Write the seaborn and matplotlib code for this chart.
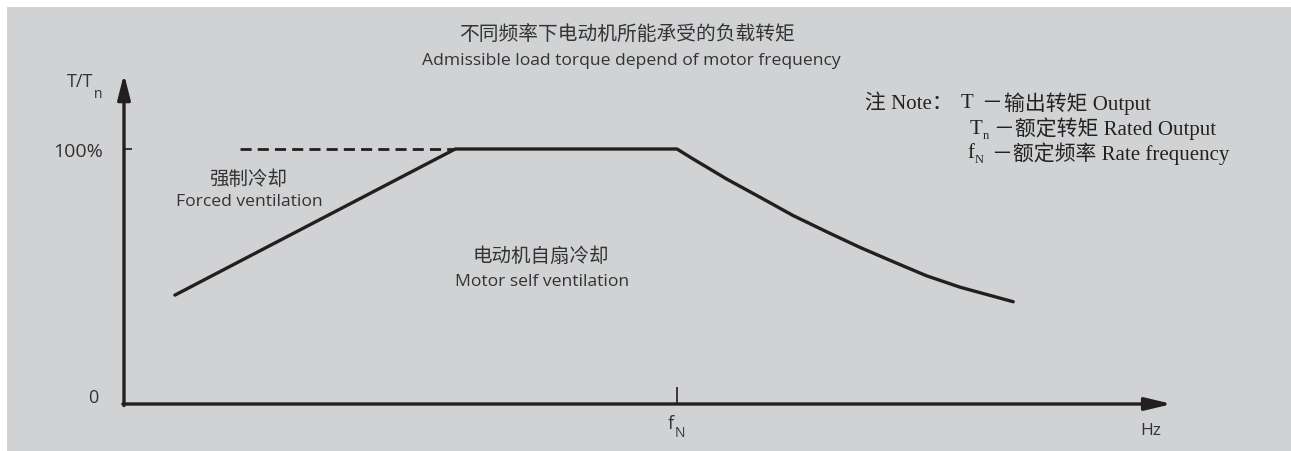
import matplotlib
matplotlib.use("Agg")
import matplotlib.pyplot as plt
import seaborn as sns
import pandas as pd
from matplotlib.patches import Rectangle

# 数据（横轴以 fN 为 1，纵轴为 T/Tn 百分比）
freq = [0.092, 0.599, 1.0, 1.029, 1.090, 1.150, 1.210, 1.271, 1.331, 1.391, 1.451, 1.512, 1.608]
torque = [42.7, 100, 100, 96.1, 88.2, 81.1, 73.9, 67.5, 61.4, 55.8, 50.3, 45.8, 40.1]
forced_freq = [0.209, 0.599]
forced_torque = [100, 100]
ytick_vals = [100]
ytick_labels = ["100%"]
xtick_vals = [1.0]

W, H = 1291, 452
sns.set_style("white")
plt.rcParams['font.family'] = ['Open Sans', 'Noto Sans CJK SC', 'DejaVu Sans']
ink = '#231f20'
txt = '#333333'

fig = plt.figure(figsize=(W / 100, H / 100), dpi=100)
fig.patch.set_facecolor('white')
fig.patches.append(Rectangle((7 / W, 0), 1, 1 - 8 / H, transform=fig.transFigure,
                             facecolor='#d1d2d4', edgecolor='none', zorder=-5))

def px(x, y):
    return x / W, 1 - y / H

# 坐标轴区域：原点 (124,405)，fN 在 x=677，100% 在 y=150
x0, y0, x1, y1 = 124, 405, 1180, 70
unit = 553
ax = fig.add_axes([x0 / W, 1 - y0 / H, (x1 - x0) / W, (y0 - y1) / H])
ax.set_zorder(2)
ax.set_facecolor('none')
ax.set_xlim(0, (x1 - x0) / unit)
ax.set_ylim(0, (y0 - y1) / 255 * 100)
for s in ax.spines.values():
    s.set_visible(False)

df = pd.DataFrame({'f': freq, 'T': torque})
sns.lineplot(data=df, x='f', y='T', ax=ax, color=ink, lw=2.4, sort=False, estimator=None)
dd = pd.DataFrame({'f': forced_freq, 'T': forced_torque})
sns.lineplot(data=dd, x='f', y='T', ax=ax, color=ink, lw=2.0, sort=False, estimator=None,
             linestyle=(0, (4, 2.2)))

# 坐标轴箭头
ax.annotate('', xy=(0, (y0 - 75) / 255 * 100), xytext=(0, -0.6),
            arrowprops=dict(arrowstyle='-|>,head_length=1.5,head_width=0.38', lw=2.4,
                            color=ink, shrinkA=0, shrinkB=0), annotation_clip=False)
ax.annotate('', xy=((1172 - x0) / unit, 0), xytext=(-0.002, 0),
            arrowprops=dict(arrowstyle='-|>,head_length=1.6,head_width=0.38', lw=2.4,
                            color=ink, shrinkA=0, shrinkB=0), annotation_clip=False)

ax.set_yticks(ytick_vals)
ax.set_yticklabels(ytick_labels, fontsize=14, color=txt)
ax.set_xticks(xtick_vals)
ax.set_xticklabels([''])
ax.tick_params(axis='y', direction='in', length=6, width=1.2, color=ink, pad=15, left=True)
ax.tick_params(axis='x', direction='in', length=12, width=1.2, color=ink, bottom=True)
ax.set_xlabel('')
ax.set_ylabel('')

def put(x, y, s, size=12.5, ha='center', **kw):
    fig.text(*px(x, y), s, fontsize=size, ha=ha, va='center', color=txt, **kw)

put(627, 36, '不同频率下电动机所能承受的负载转矩', 14.2)
put(631, 61, 'Admissible load torque depend of motor frequency', 12.6)
put(80, 82, 'T/T', 13)
put(98, 95, 'n', 10)
put(93, 398, '0', 13)
put(671, 424, 'f', 13)
put(680, 434, 'N', 10)
put(1151, 431, 'Hz', 12.5)
put(248, 180, '强制冷却', 14)
put(249, 202, 'Forced ventilation', 12.6)
put(541, 257, '电动机自扇冷却', 14)
put(542, 282, 'Motor self ventilation', 12.6)

serif = ['Liberation Serif', 'Noto Sans CJK SC']
def note(x, y, s, size=15, **kw):
    fig.text(*px(x, y), s, fontsize=size, ha='left', va='center', color='#222222',
             family=serif, **kw)

note(865, 104, '注 Note：')
note(961, 104, 'T')
note(981, 104, '－')
note(1004, 104, '输出转矩 Output')
note(970, 129, 'T')
note(983, 136, 'n', 9)
note(994, 129, '－额定转矩 Rated Output')
note(967, 154, 'f')
note(975, 160, 'N', 9)
note(992, 154, '－额定频率 Rate frequency')

fig.savefig('out.png', dpi=100)
